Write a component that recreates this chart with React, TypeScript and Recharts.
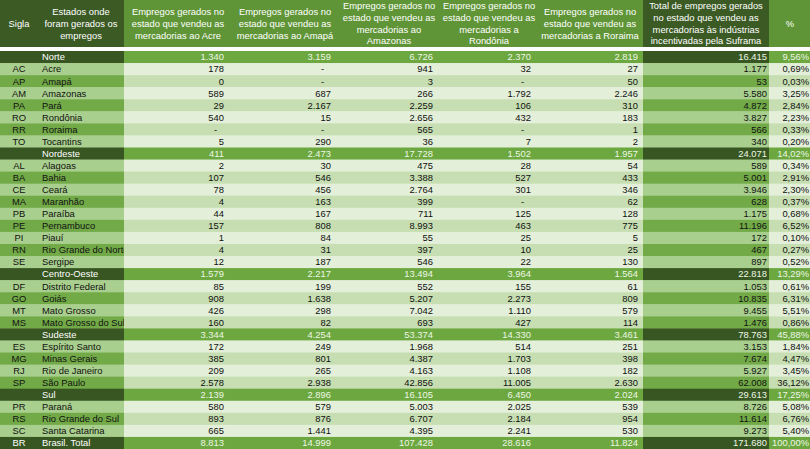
import { BarChart, Bar, XAxis, YAxis, Customized } from 'recharts';

const siglas = ['', 'AC', 'AP', 'AM', 'PA', 'RO', 'RR', 'TO', '', 'AL', 'BA', 'CE', 'MA', 'PB', 'PE', 'PI', 'RN', 'SE', '', 'DF', 'GO', 'MT', 'MS', '', 'ES', 'MG', 'RJ', 'SP', '', 'PR', 'RS', 'SC', 'BR'];
const estados = ['Norte', 'Acre', 'Amapá', 'Amazonas', 'Pará', 'Rondônia', 'Roraima', 'Tocantins', 'Nordeste', 'Alagoas', 'Bahia', 'Ceará', 'Maranhão', 'Paraíba', 'Pernambuco', 'Piauí', 'Rio Grande do Norte', 'Sergipe', 'Centro-Oeste', 'Distrito Federal', 'Goiás', 'Mato Grosso', 'Mato Grosso do Sul', 'Sudeste', 'Espírito Santo', 'Minas Gerais', 'Rio de Janeiro', 'São Paulo', 'Sul', 'Paraná', 'Rio Grande do Sul', 'Santa Catarina', 'Brasil. Total'];
// linhas de região / total
const regioes = ['Norte', 'Nordeste', 'Centro-Oeste', 'Sudeste', 'Sul', 'Brasil. Total'];

const acre = [1340, 178, 0, 589, 29, 540, null, 5, 411, 2, 107, 78, 4, 44, 157, 1, 4, 12, 1579, 85, 908, 426, 160, 3344, 172, 385, 209, 2578, 2139, 580, 893, 665, 8813];
const amapa = [3159, null, null, 687, 2167, 15, null, 290, 2473, 30, 546, 456, 163, 167, 808, 84, 31, 187, 2217, 199, 1638, 298, 82, 4254, 249, 801, 265, 2938, 2896, 579, 876, 1441, 14999];
const amazonas = [6726, 941, 3, 266, 2259, 2656, 565, 36, 17728, 475, 3388, 2764, 399, 711, 8993, 55, 397, 546, 13494, 552, 5207, 7042, 693, 53374, 1968, 4387, 4163, 42856, 16105, 5003, 6707, 4395, 107428];
const rondonia = [2370, 32, null, 1792, 106, 432, null, 7, 1502, 28, 527, 301, null, 125, 463, 25, 10, 22, 3964, 155, 2273, 1110, 427, 14330, 514, 1703, 1108, 11005, 6450, 2025, 2184, 2241, 28616];
const roraima = [2819, 27, 50, 2246, 310, 183, 1, 2, 1957, 54, 433, 346, 62, 128, 775, 5, 25, 130, 1564, 61, 809, 579, 114, 3461, 251, 398, 182, 2630, 2024, 539, 954, 530, 11824];
const total = [16415, 1177, 53, 5580, 4872, 3827, 566, 340, 24071, 589, 5001, 3946, 628, 1175, 11196, 172, 467, 897, 22818, 1053, 10835, 9455, 1476, 78763, 3153, 7674, 5927, 62008, 29613, 8726, 11614, 9273, 171680];
const percentual = [9.56, 0.69, 0.03, 3.25, 2.84, 2.23, 0.33, 0.2, 14.02, 0.34, 2.91, 2.3, 0.37, 0.68, 6.52, 0.1, 0.27, 0.52, 13.29, 0.61, 6.31, 5.51, 0.86, 45.88, 1.84, 4.47, 3.45, 36.12, 17.25, 5.08, 6.76, 5.4, 100];

const cabecalhos = [
  'Sigla',
  'Estados onde\nforam gerados os\nempregos',
  'Empregos gerados no\nestado que vendeu as\nmercadorias ao Acre',
  'Empregos gerados no\nestado que vendeu as\nmercadorias ao Amapá',
  'Empregos gerados no\nestado que vendeu as\nmercadorias ao\nAmazonas',
  'Empregos gerados no\nestado que vendeu as\nmercadorias a\nRondônia',
  'Empregos gerados no\nestado que vendeu as\nmercadorias a Roraima',
  'Total de empregos gerados\nno estado que vendeu as\nmercadorias às indústrias\nincentivadas pela Suframa',
  '%',
];

// layout das colunas (px)
const HEADER_CENTERS = [19, 81, 178, 285, 389, 489, 590, 706, 790];
const VALUE_RIGHT = [224, 331, 433, 531, 638];
const X_LABEL_END = 124;
const X_TOTAL = 643;
const X_PCT = 769;
const W = 810;
const H = 449;
const HEADER_H = 47;
const FONT = '"Liberation Sans", Arial, sans-serif';
const FS = 9.4;

const C = {
  darkHead: '#3b5a24',
  greenHead: '#5f9536',
  regionDark: '#375622',
  regionGreen: '#6ca83f',
  labelLight: '#a9cf8e',
  labelMid: '#72aa48',
  dataLight: '#e3efd9',
  dataMid: '#c6deb1',
};

const rows = estados.map((estado, i) => {
  const isRegion = regioes.includes(estado);
  let k = 0;
  while (i - k - 1 >= 0 && !regioes.includes(estados[i - k - 1])) k++;
  return {
    sigla: siglas[i],
    estado,
    isRegion,
    stripe: k % 2 === 1,
    valores: [acre[i], amapa[i], amazonas[i], rondonia[i], roraima[i]],
    total: total[i],
    pct: percentual[i],
  };
});

function fmt(v: number | null) {
  if (v === null) return '-';
  return String(v).replace(/\B(?=(\d{3})+(?!\d))/g, '.');
}

function RowShape(props: any) {
  const { y, height, payload } = props;
  const r = payload;
  const ty = y + height / 2 + 3.4;
  const labelBg = r.isRegion ? C.regionDark : r.stripe ? C.labelMid : C.labelLight;
  const dataBg = r.isRegion ? C.regionGreen : r.stripe ? C.dataMid : C.dataLight;
  const totalBg = r.isRegion ? C.regionDark : r.stripe ? C.labelMid : C.labelLight;
  const txt = r.isRegion ? '#ffffff' : '#111111';
  const numTxt = r.isRegion ? '#eef6e6' : '#111111';
  const ts = { fontFamily: FONT, fontSize: FS };
  return (
    <g>
      <rect x={0} y={y} width={X_LABEL_END} height={height + 0.5} fill={labelBg} />
      <text x={19} y={ty} textAnchor="middle" fill={txt} style={ts}>{r.sigla}</text>
      <text x={42} y={ty} fill={txt} style={ts}>{r.estado}</text>
      <rect x={X_LABEL_END} y={y} width={X_TOTAL - X_LABEL_END} height={height + 0.5} fill={dataBg} />
      <rect x={X_TOTAL} y={y} width={X_PCT - X_TOTAL} height={height + 0.5} fill={totalBg} />
      <rect x={X_PCT} y={y} width={W - X_PCT} height={height + 0.5} fill={dataBg} />
      {r.valores.map((v: number | null, j: number) => (
        <text key={j} x={v === null ? VALUE_RIGHT[j] - 7 : VALUE_RIGHT[j]} y={ty} textAnchor="end" fill={numTxt} style={ts}>
          {fmt(v)}
        </text>
      ))}
      <text x={767} y={ty} textAnchor="end" fill={numTxt} style={ts}>{fmt(r.total)}</text>
      <text x={809} y={ty} textAnchor="end" fill={numTxt} style={ts}>
        {r.pct.toFixed(2).replace('.', ',') + '%'}
      </text>
    </g>
  );
}

function Header() {
  const lineH = 11.7;
  return (
    <g>
      <rect x={0} y={0} width={X_LABEL_END} height={HEADER_H} fill={C.darkHead} />
      <rect x={X_LABEL_END} y={0} width={X_TOTAL - X_LABEL_END} height={HEADER_H} fill={C.greenHead} />
      <rect x={X_TOTAL} y={0} width={X_PCT - X_TOTAL} height={HEADER_H} fill={C.darkHead} />
      <rect x={X_PCT} y={0} width={W - X_PCT} height={HEADER_H} fill={C.greenHead} />
      {cabecalhos.map((h, i) => {
        const lines = h.split('\n');
        const start = 23.5 - ((lines.length - 1) * lineH) / 2;
        return lines.map((l, j) => (
          <text
            key={i + '-' + j}
            x={HEADER_CENTERS[i]}
            y={start + j * lineH + 3.4}
            textAnchor="middle"
            fill="#ffffff"
            style={{ fontFamily: FONT, fontSize: FS }}
          >
            {l}
          </text>
        ));
      })}
    </g>
  );
}

export default function App() {
  return (
    <div style={{ position: 'absolute', left: 0, top: 0, width: W, height: H, background: '#fff' }}>
      <BarChart
        width={W}
        height={H}
        data={rows}
        layout="vertical"
        margin={{ top: 51, right: 0, bottom: 0, left: 0 }}
        barCategoryGap={0}
        barGap={0}
      >
        <XAxis type="number" hide domain={[0, 'dataMax']} />
        <YAxis type="category" dataKey="estado" hide />
        <Bar dataKey="total" shape={RowShape} isAnimationActive={false} />
        <Customized component={Header} />
      </BarChart>
    </div>
  );
}
